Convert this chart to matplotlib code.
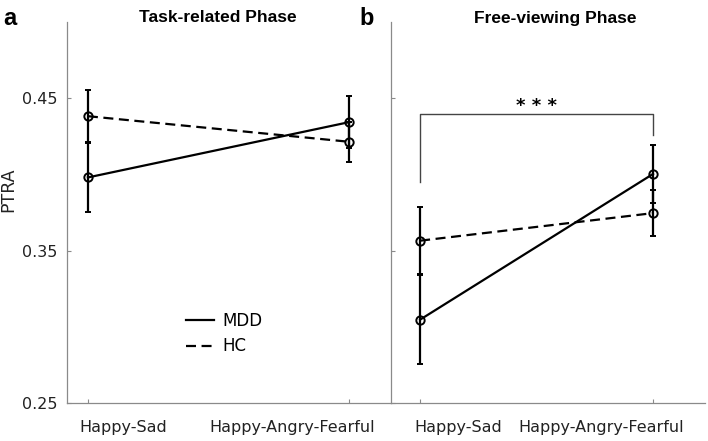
import matplotlib.pyplot as plt
from matplotlib.lines import Line2D

conditions = ['Happy-Sad', 'Happy-Angry-Fearful']
x_pos = [1, 2]

# PTRA means and error bars
task_mdd = [0.398, 0.4343]
task_mdd_err = [0.0225, 0.0173]
task_hc = [0.4382, 0.4214]
task_hc_err = [0.017, 0.0132]

free_mdd = [0.3047, 0.4003]
free_mdd_err = [0.029, 0.0193]
free_hc = [0.3565, 0.3746]
free_hc_err = [0.0218, 0.015]

# the category labels are not centred on the tick marks in the original
task_label_x = [1.134, 1.782]
free_label_x = [1.163, 1.777]

# significance bracket in panel b
sig_y = 0.4397
sig_left_bottom = 0.395
sig_right_bottom = 0.4256
star_y = 0.4448

DASH = (4.5, 2.5)
SPINE = '#8a8a8a'
TXT = '#222222'


def draw_panel(ax, mdd, mdd_err, hc, hc_err, xlim, label_x):
    kw = dict(color='black', lw=1.6, elinewidth=1.6, capsize=2.3, capthick=1.6,
              marker='o', ms=6, mfc='none', mec='black', mew=1.4)
    ax.errorbar(x_pos, mdd, yerr=mdd_err, ls='-', **kw)
    hc_line = ax.errorbar(x_pos, hc, yerr=hc_err, ls='--', **kw)
    hc_line[0].set_dashes(DASH)

    ax.set_xlim(*xlim)
    ax.set_ylim(0.25, 0.5)
    ax.set_xticks(x_pos)
    ax.set_xticklabels([])
    ax.set_yticks([0.25, 0.35, 0.45])
    for side in ['top', 'right']:
        ax.spines[side].set_visible(False)
    for side in ['left', 'bottom']:
        ax.spines[side].set_color(SPINE)
        ax.spines[side].set_linewidth(0.9)
    ax.tick_params(direction='in', length=3, width=0.8, color=SPINE,
                   labelsize=11.5, labelcolor=TXT)
    ax.tick_params(axis='y', pad=7)

    for lx, name in zip(label_x, conditions):
        ax.text(lx, -0.063, name, transform=ax.get_xaxis_transform(),
                ha='center', va='center', fontsize=11.5, color=TXT)


fig = plt.figure(figsize=(7.08, 4.41), dpi=100)
ax1 = fig.add_axes([67 / 708, 38 / 441, 324 / 708, 381 / 441])
ax2 = fig.add_axes([391 / 708, 38 / 441, 314 / 708, 381 / 441])

draw_panel(ax1, task_mdd, task_mdd_err, task_hc, task_hc_err, (0.92, 2.16), task_label_x)
draw_panel(ax2, free_mdd, free_mdd_err, free_hc, free_hc_err, (0.875, 2.223), free_label_x)
ax2.set_yticklabels([])

ax1.set_ylabel('PTRA', fontsize=12.5, color=TXT)
ax1.yaxis.set_label_coords(-0.154, 0.56)

# panel titles sit slightly off-centre in the original
title_kw = dict(fontsize=12.5, fontweight='bold', family='Liberation Sans',
                ha='center', va='center')
fig.text(217.5 / 708, 1 - 18 / 441, 'Task-related Phase', **title_kw)
fig.text(555 / 708, 1 - 18 / 441, 'Free-viewing Phase', **title_kw)

fig.text(0.004, 0.985, 'a', fontsize=17, fontweight='bold', family='Liberation Sans',
         va='top', ha='left')
fig.text(0.508, 0.985, 'b', fontsize=17, fontweight='bold', family='Liberation Sans',
         va='top', ha='left')

# bracket with stars
ax2.plot([1, 1, 2, 2], [sig_left_bottom, sig_y, sig_y, sig_right_bottom],
         color='#444444', lw=1.0)
ax2.text(1.5, star_y, '* * *', ha='center', va='center', fontsize=13,
         fontweight='bold')

handles = [Line2D([], [], color='black', lw=1.6, ls='-'),
           Line2D([], [], color='black', lw=1.6, ls=(0, DASH))]
ax1.legend(handles, ['MDD', 'HC'], loc='center left', bbox_to_anchor=(0.341, 0.182),
           frameon=False, fontsize=12, handlelength=1.7, handletextpad=0.5,
           labelspacing=0.45, borderpad=0)

fig.savefig('out.png', dpi=100)
